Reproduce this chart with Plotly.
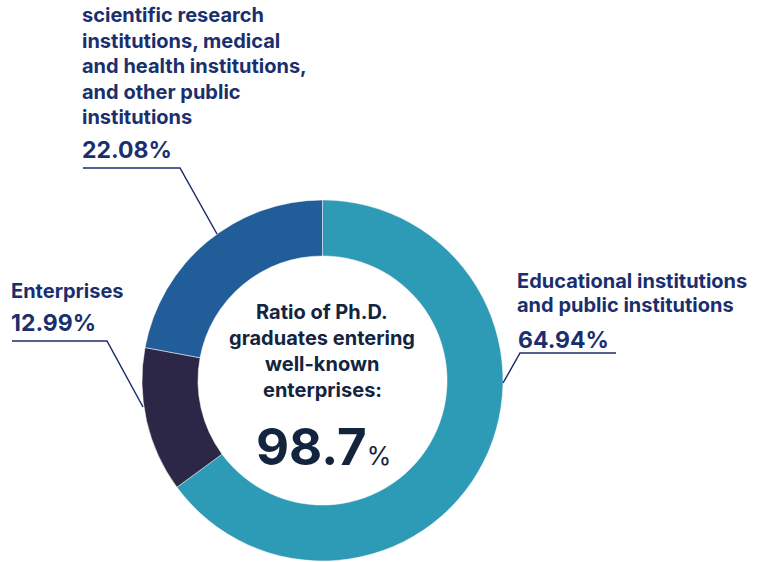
import plotly.graph_objects as go

categories = ["Educational institutions and public institutions", "Enterprises",
              "scientific research institutions, medical and health institutions, and other public institutions"]
values = [64.94, 12.99, 22.08]
colors = ["#2D9AB6", "#2C2747", "#215D98"]
center_value = "98.7"

W, H = 763, 562

def px(x):
    return x / W

def py(y):
    return 1 - y / H

fig = go.Figure(go.Pie(
    labels=categories, values=values, sort=False, direction="clockwise", rotation=0,
    hole=0.69, marker=dict(colors=colors, line=dict(color="white", width=0.5)),
    textinfo="none", hoverinfo="skip", showlegend=False,
    domain=dict(x=[px(142), px(503)], y=[py(561), py(200)]),
))

LBL = "#1B2E6E"
CTR = "#13243F"
FONT = "Inter"
ann = []

def add(text, x, y, size, color, xanchor="left", weight="bold"):
    ann.append(dict(text=text, x=px(x), y=py(y), xref="paper", yref="paper",
                    xanchor=xanchor, yanchor="middle", showarrow=False,
                    font=dict(family=FONT, size=size, color=color, weight=weight)))

sci_lines = ["scientific research", "institutions, medical", "and health institutions,",
             "and other public", "institutions"]
for i, t in enumerate(sci_lines):
    add(t, 80, 15 + i * 25.5, 20, LBL)
add(f"{values[2]:.2f}%", 80, 150, 23, LBL)

edu_lines = ["Educational institutions", "and public institutions"]
for i, t in enumerate(edu_lines):
    add(t, 515, 281 + i * 24, 20, LBL)
add(f"{values[0]:.2f}%", 516, 340, 23, LBL)

add("Enterprises", 9, 291, 20, LBL)
add(f"{values[1]:.2f}%", 9, 323, 23, LBL)

ctr_lines = ["Ratio of Ph.D.", "graduates entering", "well-known", "enterprises:"]
for i, t in enumerate(ctr_lines):
    add(t, 322, 312 + i * 26, 20, CTR, xanchor="center")
ann.append(dict(text=f"<b>{center_value}</b><span style='font-size:25px'>%</span>",
                x=px(323), y=py(446), xref="paper", yref="paper", xanchor="center",
                yanchor="middle", showarrow=False,
                font=dict(family=FONT, size=51, color=CTR)))

def leader(points):
    d = "M " + " L ".join(f"{px(x)},{py(y)}" for x, y in points)
    return dict(type="path", path=d, xref="paper", yref="paper",
                line=dict(color=LBL, width=1.5))

shapes = [
    leader([(83, 168), (180, 168), (217, 234)]),
    leader([(12, 341), (107, 341), (143, 407)]),
    leader([(616, 353), (520, 353), (503, 383)]),
]

fig.update_layout(width=W, height=H, margin=dict(l=0, r=0, t=0, b=0),
                  paper_bgcolor="white", plot_bgcolor="white",
                  annotations=ann, shapes=shapes)
fig.write_html("out.html", config={"displayModeBar": False},
               post_script="document.body.style.margin='0';document.body.style.overflow='hidden';")
